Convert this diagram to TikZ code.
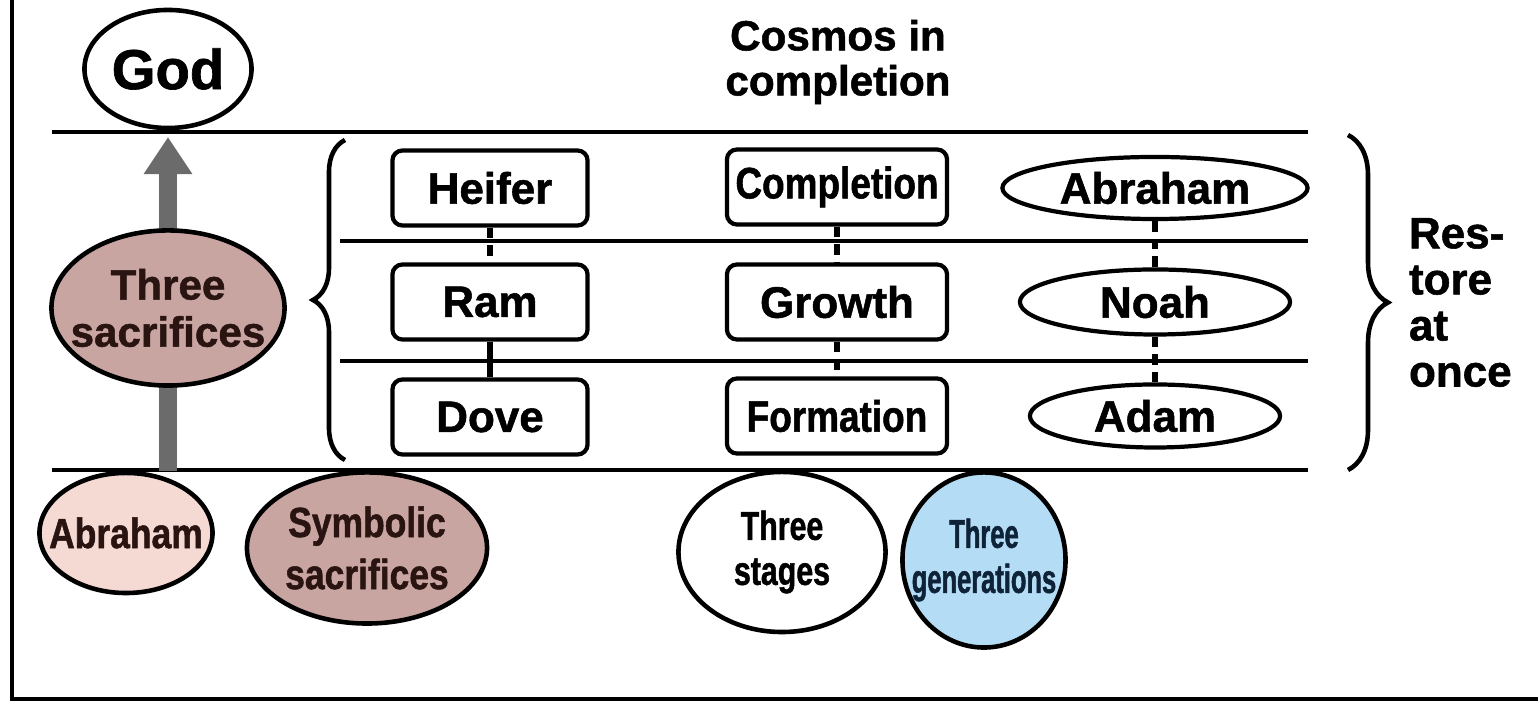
\documentclass[tikz,border=0pt]{standalone}
\usepackage{fontspec}
\setsansfont[FakeBold=1.2]{Liberation Sans}
\newfontfamily\narrowA[FakeStretch=0.84, FakeBold=1.2]{Liberation Sans}
\newfontfamily\narrowB[FakeStretch=0.75, FakeBold=1.2]{Liberation Sans}
\newfontfamily\narrowC[FakeStretch=0.63, FakeBold=1.2]{Liberation Sans}
\usetikzlibrary{arrows.meta, decorations.pathreplacing, shapes.geometric}
\definecolor{sacred}{HTML}{C9A5A2}
\definecolor{patriarch}{HTML}{F5DAD3}
\definecolor{gensky}{HTML}{B4DCF4}
\definecolor{liftgray}{HTML}{6B6B6B}
\definecolor{inkbrown}{HTML}{2A1411}
\definecolor{inknavy}{HTML}{0E2238}
\tikzset{
  stagebox/.style  = {draw, line width=1.2pt, rounded corners=1mm,
                      minimum height=7.5mm, inner sep=1pt,
                      font=\fontsize{12.5}{14}\selectfont\sffamily\bfseries},
  genoval/.style   = {draw, ellipse, line width=1.2pt, inner sep=0pt,
                      font=\fontsize{12.5}{14}\selectfont\sffamily\bfseries},
  bigoval/.style   = {draw, ellipse, line width=1.3pt, inner sep=0pt, align=center},
  divider/.style   = {line width=1.2pt},
  rung/.style      = {line width=1.6pt, dash pattern=on 3pt off 2pt},
  curly/.style     = {line width=1.3pt, decorate},
  liftarrow/.style = {-{Triangle[length=3.7mm, width=4.6mm]}, line width=1.7mm, liftgray},
  heavytxt/.style  = {align=left, font=\fontsize{12.5}{13.1}\selectfont\sffamily\bfseries},
}

\begin{document}
\begin{tikzpicture}[x=0.01cm, y=-0.01cm]
  \useasboundingbox (0,0) rectangle (1538,701);
  % frame
  \draw[line width=1.3pt] (12,0) -- (12,699) -- (1538,699);

  % level lines
  \draw[divider] (52,132)  -- (1308,132);
  \draw[divider] (340,241) -- (1308,241);
  \draw[divider] (340,361) -- (1308,361);
  \draw[divider] (52,470)  -- (1308,470);

  % top row
  \node[bigoval, minimum width=1.67cm, minimum height=1.18cm,
        font=\fontsize{16}{18}\selectfont\sffamily\bfseries] (god) at (168,69) {God};
  \node[align=center, font=\fontsize{12}{12.8}\selectfont\sffamily\bfseries]
        (cosmos) at (838,62) {Cosmos in\\completion};

  % bottom row
  \node[bigoval, fill=patriarch, text=inkbrown, minimum width=1.73cm, minimum height=1.2cm,
        inner xsep=-1.7mm, font=\fontsize{12}{13}\selectfont\narrowA\bfseries]
        (abr) at (126,533) {Abraham};
  \node[bigoval, fill=sacred, text=inkbrown, minimum width=2.4cm, minimum height=1.51cm,
        font=\fontsize{12}{14.8}\selectfont\narrowA\bfseries] (symb) at (367,548) {Symbolic\\sacrifices};
  \node[bigoval, minimum width=2.07cm, minimum height=1.6cm,
        font=\fontsize{11.5}{12.8}\selectfont\narrowB\bfseries] (stages) at (782,552) {Three\\stages};
  \node[bigoval, fill=gensky, text=inknavy, minimum width=1.63cm, minimum height=1.75cm,
        inner xsep=-1.7mm, font=\fontsize{11.5}{12.8}\selectfont\narrowC\bfseries]
        (gens) at (984,560) {Three\\generations};

  % rising arrow behind the sacrifices
  \coordinate (tip) at (168,137);
  \draw[liftarrow] (tip |- abr.north) -- (tip);
  \node[bigoval, fill=sacred, text=inkbrown, minimum width=2.33cm, minimum height=1.55cm,
        inner xsep=-1.6mm, font=\fontsize{12}{13.4}\selectfont\sffamily\bfseries]
        (sacr) at (168,308) {Three\\sacrifices};

  % offerings
  \node[stagebox, minimum width=1.95cm] (heifer) at (490,188) {Heifer};
  \node[stagebox, minimum width=1.95cm] (ram)    at (490,302) {Ram};
  \node[stagebox, minimum width=1.95cm] (dove)   at (490,417) {Dove};

  % stages
  \node[stagebox, minimum width=2.2cm, font=\fontsize{12.5}{14}\selectfont\narrowA\bfseries]
        (compl) at (837,187) {Completion};
  \node[stagebox, minimum width=2.2cm] (growth) at (837,302) {Growth};
  \node[stagebox, minimum width=2.2cm, font=\fontsize{12.5}{14}\selectfont\narrowA\bfseries]
        (form)  at (837,416) {Formation};

  % generations
  \node[genoval, minimum width=3.05cm, minimum height=0.62cm] (abrtop) at (1155,188) {Abraham};
  \node[genoval, minimum width=2.7cm,  minimum height=0.65cm] (noah)   at (1155,302) {Noah};
  \node[genoval, minimum width=2.5cm,  minimum height=0.63cm] (adam)   at (1155,416) {Adam};

  \draw[rung] (heifer) -- (ram);
  \draw[line width=1.6pt] (ram) -- (dove);
  \draw[rung] (compl) -- (growth);
  \draw[rung] (growth) -- (form);
  \draw[rung] (abrtop) -- (noah);
  \draw[rung] (noah) -- (adam);

  % braces
  \draw[curly, decoration={brace, amplitude=3.2mm}] (345,460) -- (345,140);
  \draw[curly, decoration={brace, amplitude=4mm}] (1348,135) -- (1348,470)
    node[midway, anchor=west, xshift=4.7mm, heavytxt] (restore) {Res-\\tore\\at\\once};
\end{tikzpicture}
\end{document}
